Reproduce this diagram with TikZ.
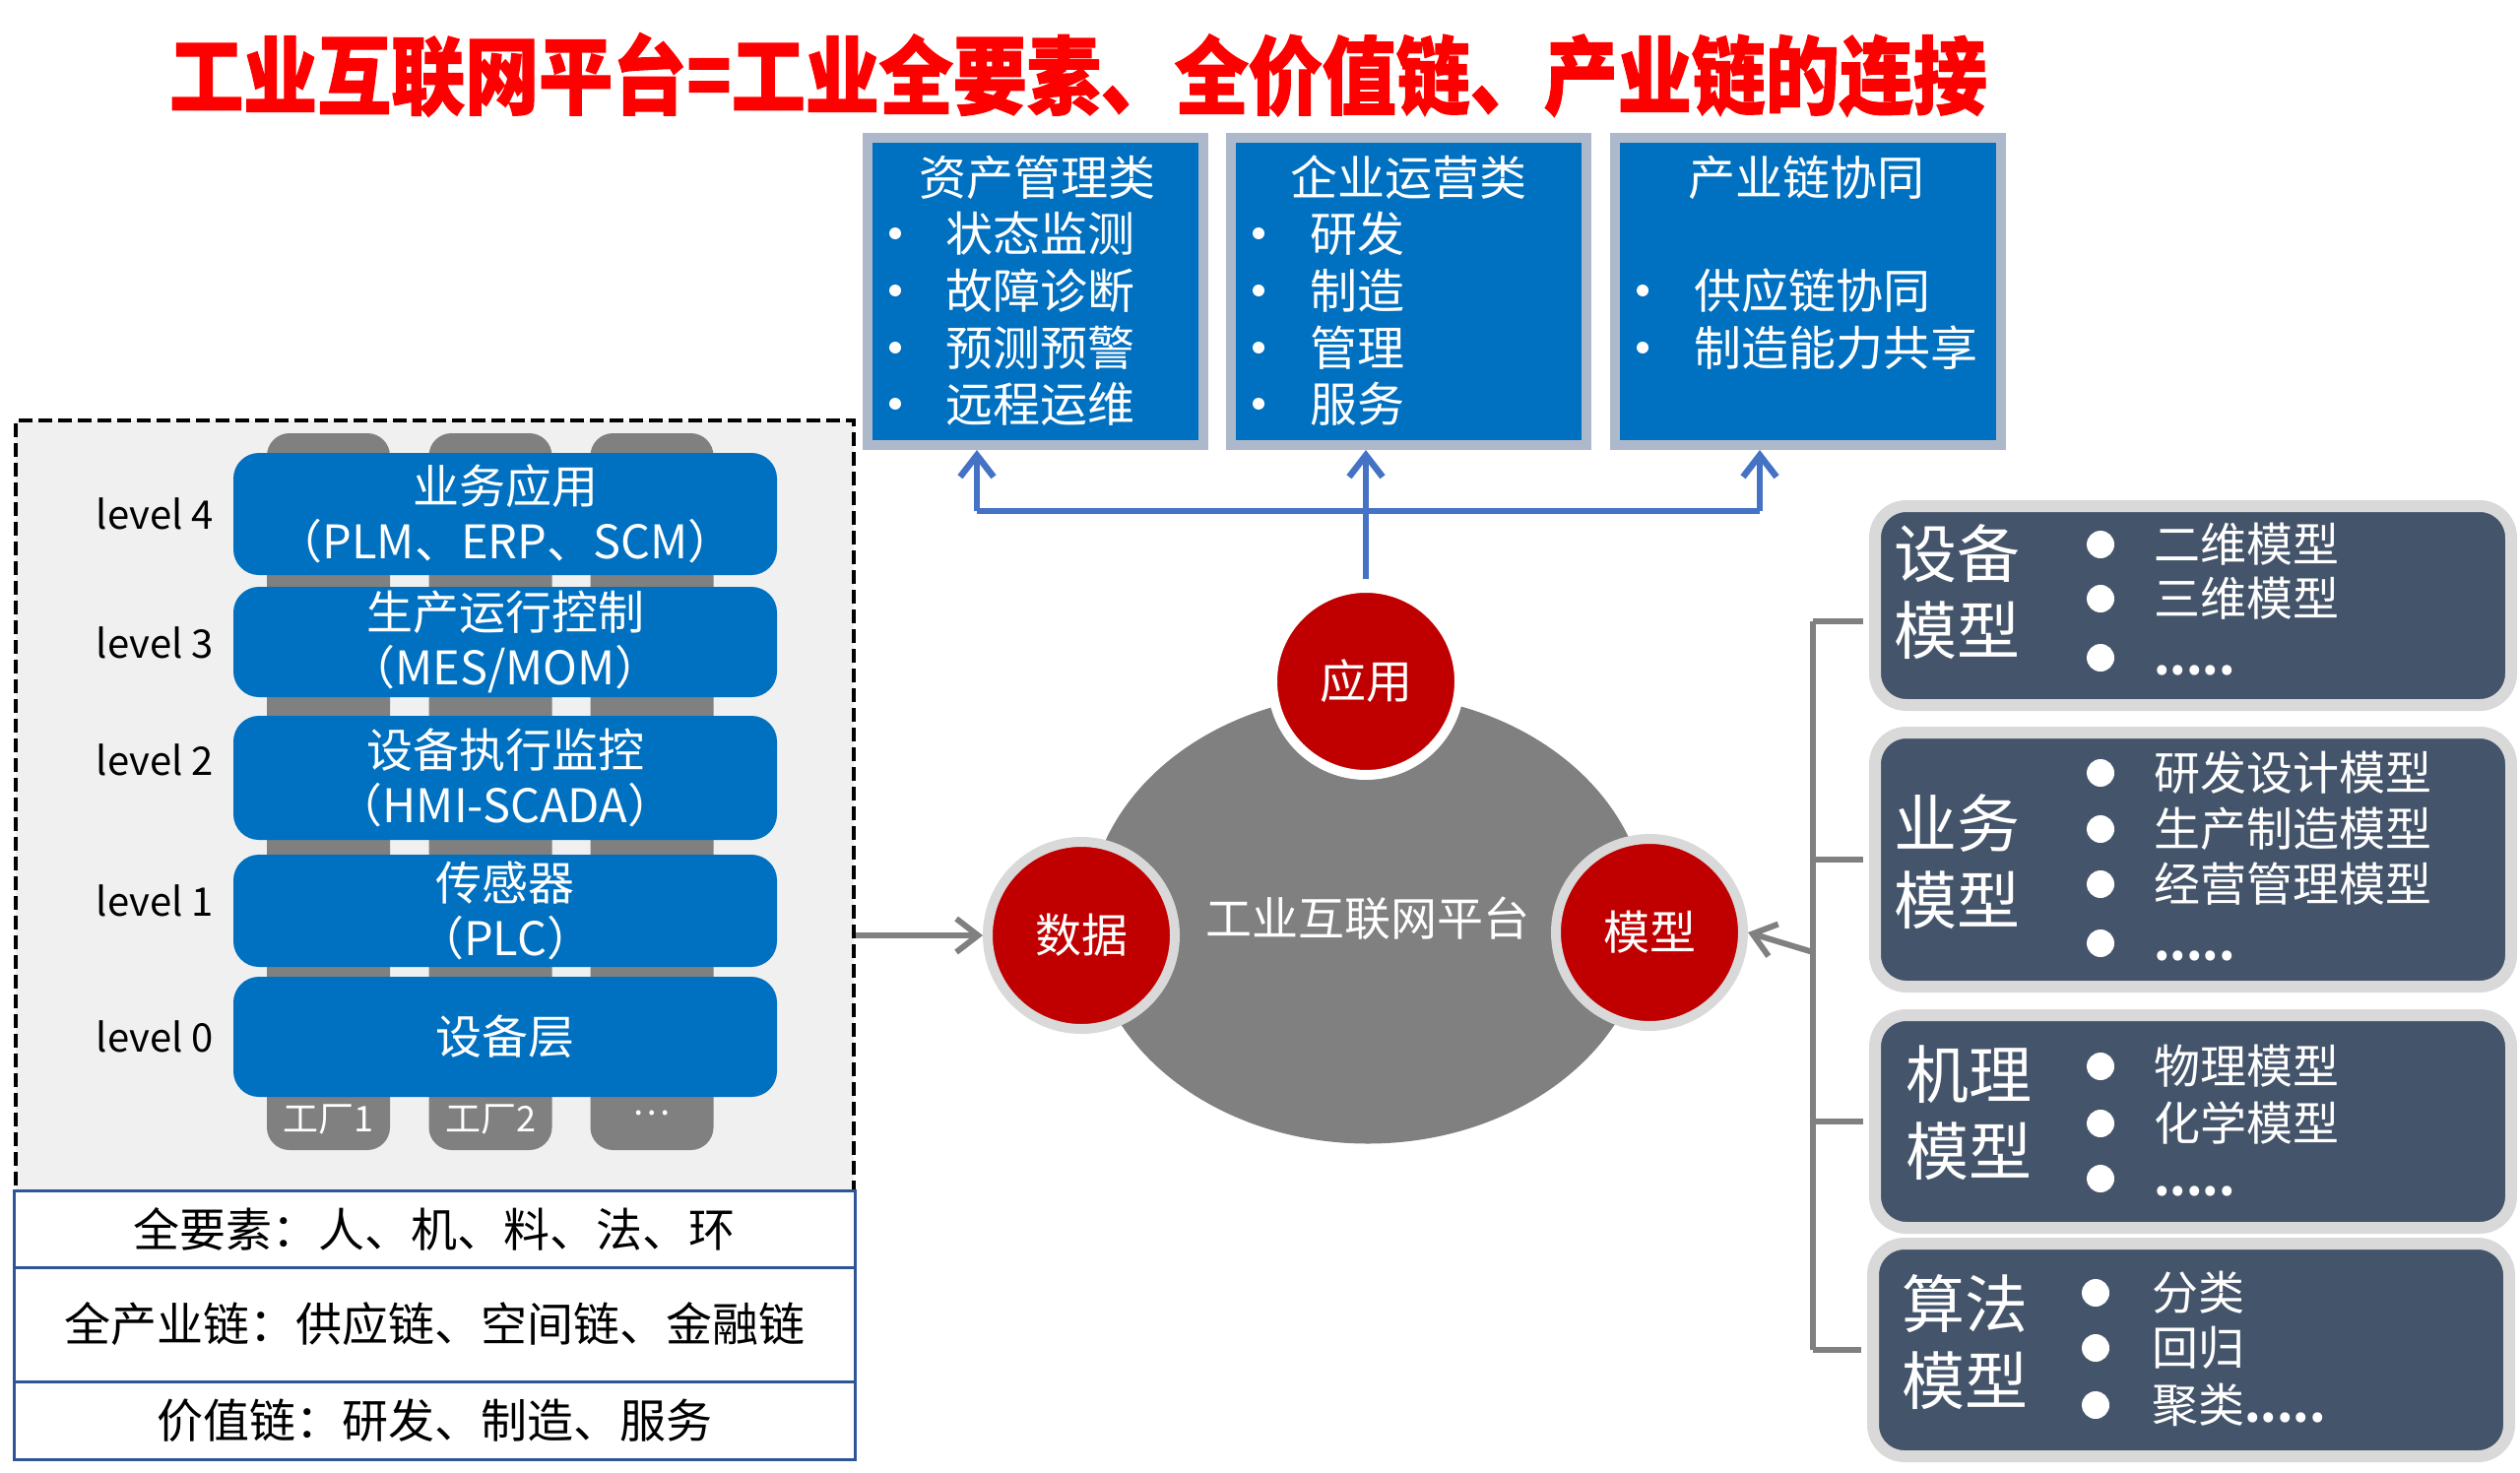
\documentclass[tikz,border=0pt]{standalone}
\usepackage{fontspec}
\setmainfont{Noto Sans CJK SC}
\newfontfamily\titlefont{Noto Sans CJK SC}[BoldFeatures={FakeBold=1.5}]
\usetikzlibrary{arrows.meta,shapes.geometric}
\definecolor{tred}{HTML}{FF0000}
\definecolor{boxblue}{HTML}{0070C0}
\definecolor{boxrim}{HTML}{ADB9CA}
\definecolor{arrblue}{HTML}{4472C4}
\definecolor{dred}{HTML}{C00000}
\definecolor{midgrey}{HTML}{808080}
\definecolor{rimgrey}{HTML}{D9D9D9}
\definecolor{slate}{HTML}{44546A}
\definecolor{panelbg}{HTML}{F0F0F0}
\definecolor{tblue}{HTML}{2F5597}
\newcommand\fsz[2]{\fontsize{#1}{#2}\selectfont}
\newcommand\dotsfive{{\bfseries .{}.{}.{}.{}.}}
\begin{document}
\begin{tikzpicture}[x=1pt,y=-1pt,
  topbox/.style={draw=boxrim, line width=10pt, fill=boxblue, minimum height=312pt, inner sep=0pt},
  tbhead/.style={text=white, font=\fsz{48}{56}, inner sep=0pt},
  tbitem/.style={text=white, font=\fsz{48}{56}, inner sep=0pt, anchor=west, text height=42pt, text depth=6pt},
  barrow/.style={draw=arrblue, line width=6.5pt, -{Straight Barb[length=22pt,width=34pt]}},
  bline/.style={draw=arrblue, line width=6.5pt},
  garrow/.style={draw=midgrey, line width=6pt, -{Straight Barb[length=22pt,width=34pt]}},
  gline/.style={draw=midgrey, line width=6pt},
  redc/.style={circle, fill=dred, line width=10pt, minimum size=190pt, inner sep=0pt, text=white, font=\fsz{47}{56}},
  rbox/.style={rectangle, rounded corners=32pt, fill=slate, draw=rimgrey, line width=12pt, minimum width=646pt, inner sep=0pt},
  rlabel/.style={text=white, font=\fsz{64}{78}, align=left, anchor=west, inner sep=0pt},
  ritem/.style={text=white, font=\fsz{47}{56}, anchor=west, inner sep=0pt, text height=41pt, text depth=6pt},
  col/.style={rectangle, rounded corners=23pt, fill=midgrey, minimum width=125pt, minimum height=728pt, inner sep=0pt},
  bar/.style={rectangle, rounded corners=26pt, fill=boxblue, minimum width=552pt, inner sep=0pt, text=white, align=center, font=\fsz{47}{56}},
  lvl/.style={anchor=east, font=\fsz{40}{48}, inner sep=0pt},
  tblrow/.style={draw=tblue, line width=3pt, fill=white, minimum width=854pt, inner sep=0pt, font=\fsz{47}{56}},
  ]
\useasboundingbox (0,0) rectangle (2559,1496);

% title
\node[text=tred, font=\titlefont\fsz{75}{80}\bfseries, inner sep=0pt] (title) at (1095,76) {\scalebox{1}[1.15]{工业互联网平台=工业全要素、全价值链、产业链的连接}};

% top boxes
\node[topbox, minimum width=341pt] (b1) at (1051.5,296) {};
\node[topbox, minimum width=361pt] (b2) at (1430.5,296) {};
\node[topbox, minimum width=392pt] (b3) at (1836,296) {};
\node[tbhead] (b1t) at (1053,180) {资产管理类};
\node[tbhead] (b2t) at (1430,180) {企业运营类};
\node[tbhead] (b3t) at (1834,180) {产业链协同};
\foreach \y/\t [count=\i] in {237/状态监测,295/故障诊断,353/预测预警,410/远程运维}{
  \fill[white] (909,\y) circle (6pt);
  \node[tbitem] (b1i\i) at (960,\y) {\t};
}
\foreach \y/\t [count=\i] in {237/研发,295/制造,353/管理,410/服务}{
  \fill[white] (1278,\y) circle (6pt);
  \node[tbitem] (b2i\i) at (1330,\y) {\t};
}
\foreach \y/\t [count=\i] in {295/供应链协同,353/制造能力共享}{
  \fill[white] (1668,\y) circle (6pt);
  \node[tbitem] (b3i\i) at (1720,\y) {\t};
}

% platform
\node[ellipse, fill=midgrey, minimum width=568pt, minimum height=457pt, inner sep=0pt, text=white, font=\fsz{47}{56}] (plat) at (1389,933) {工业互联网平台};
\node[redc, draw=white] (app) at (1387,692) {应用};
\node[redc, draw=rimgrey] (data) at (1098,950) {数据};
\node[redc, draw=rimgrey] (mod) at (1675,947) {模型};

% blue arrows
\coordinate (jL) at (992,519);
\coordinate (jR) at (1787,519);
\draw[bline] (jL) -- (jR);
\draw[barrow] (jL) -- (jL |- b1.south);
\draw[barrow] (jR) -- (jR |- b3.south);
\draw[barrow, shorten <=4pt] (app.north) -- (app.north |- b2.south);

% left panel
\node[draw=black, line width=4pt, dash pattern=on 14pt off 6pt, fill=panelbg, minimum width=851pt, minimum height=1055pt, inner sep=0pt] (panel) at (441.5,954.5) {};
\node[col] (c1) at (333.5,804) {};
\node[col] (c2) at (498,804) {};
\node[col] (c3) at (662,804) {};
\node[text=white, font=\fsz{36}{42}, inner sep=0pt] (c1t) at (333.5,1137) {工厂1};
\node[text=white, font=\fsz{36}{42}, inner sep=0pt] (c2t) at (498,1137) {工厂2};
\node[text=white, font=\fsz{36}{42}, inner sep=0pt] (c3t) at (662,1130) {…};
\node[bar, minimum height=124pt] (l4) at (513,522) {业务应用\\（PLM、ERP、SCM）};
\node[bar, minimum height=112pt] (l3) at (513,652) {生产运行控制\\（MES/MOM）};
\node[bar, minimum height=126pt] (l2) at (513,790) {设备执行监控\\（HMI-SCADA）};
\node[bar, minimum height=114pt] (l1) at (513,925) {传感器\\（PLC）};
\node[bar, minimum height=122pt] (l0) at (513,1053) {设备层};
\node[lvl] (v4) at (217,522) {level 4};
\node[lvl] (v3) at (217,653) {level 3};
\node[lvl] (v2) at (217,772) {level 2};
\node[lvl] (v1) at (217,915) {level 1};
\node[lvl] (v0) at (217,1053) {level 0};
\node[tblrow, minimum height=78pt] (r1) at (441,1248) {全要素：人、机、料、法、环};
\node[tblrow, minimum height=116pt] (r2) at (441,1345) {全产业链：供应链、空间链、金融链};
\node[tblrow, minimum height=79pt] (r3) at (441,1442.5) {价值链：研发、制造、服务};

\draw[garrow] (data.west -| panel.east) -- (data.west);

% right boxes
\node[rbox, minimum height=202pt] (bA) at (2227,615) {};
\node[rbox, minimum height=258pt] (bB) at (2227,873) {};
\node[rbox, minimum height=216pt] (bC) at (2227,1139) {};
\node[rbox, minimum height=216pt] (bD) at (2225,1371) {};

\node[rlabel] (bAl) at (1923,601) {设备\\模型};
\node[rlabel] (bBl) at (1923,875) {业务\\模型};
\node[rlabel] (bCl) at (1935,1130) {机理\\模型};
\node[rlabel] (bDl) at (1931,1363) {算法\\模型};

\foreach \y/\t [count=\i] in {553/二维模型,608/三维模型,668/\dotsfive}{
  \fill[white] (2133,\y) circle (14pt);
  \node[ritem] (bAi\i) at (2187,\y) {\t};
}
\foreach \y/\t [count=\i] in {785/研发设计模型,842/生产制造模型,898/经营管理模型,958/\dotsfive}{
  \fill[white] (2133,\y) circle (14pt);
  \node[ritem] (bBi\i) at (2187,\y) {\t};
}
\foreach \y/\t [count=\i] in {1083/物理模型,1141/化学模型,1197/\dotsfive}{
  \fill[white] (2133,\y) circle (14pt);
  \node[ritem] (bCi\i) at (2187,\y) {\t};
}
\foreach \y/\t [count=\i] in {1313/分类,1369/回归,1427/聚类\dotsfive}{
  \fill[white] (2128,\y) circle (14pt);
  \node[ritem] (bDi\i) at (2185,\y) {\t};
}

% bracket
\coordinate (brT) at (1841,631);
\coordinate (brB) at (1841,1371);
\coordinate (brM) at (1841,967);
\draw[gline, shorten >=6pt] (brT) -- (brT -| bA.west);
\draw[gline] (brT) -- (brB);
\draw[gline, shorten >=6pt] (brB) -- (brB -| bD.west);
\draw[gline, shorten >=6pt] (bB.west -| brT) -- (bB.west);
\draw[gline, shorten >=6pt] (bC.west -| brT) -- (bC.west);
\draw[garrow] (brM) -- (mod.east);
\end{tikzpicture}
\end{document}
